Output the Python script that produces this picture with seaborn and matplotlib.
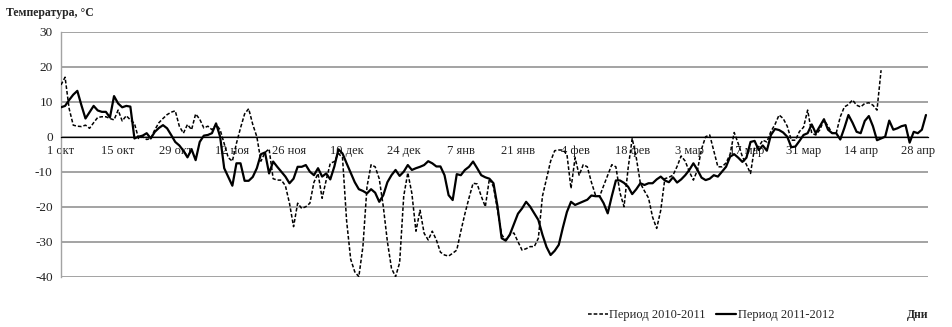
import numpy as np
import pandas as pd
import matplotlib
matplotlib.use('Agg')
import matplotlib.pyplot as plt
import seaborn as sns

# ---- data ----
tick_labels = ['1 окт', '15 окт', '29 окт', '12 ноя', '26 ноя', '10 дек', '24 дек',
               '7 янв', '21 янв', '4 фев', '18 фев', '3 мар', '17 мар', '31 мар',
               '14 апр', '28 апр']
tick_days = list(range(0, 211, 14))

temp_2010_2011 = [
    14.8, 17, 8, 3.3, 3, 2.9, 3.3, 2.4, 4, 5.5, 5.7, 5.7, 5.2, 4.8,
    7.6, 4.5, 6, 4.8, 3.8, -0.5, 0, -0.8, -0.5, 2, 4, 5.2, 6.3, 7,
    7.4, 3, 1, 3.5, 2, 6.5, 5, 2.5, 3, 2, 3.5, 2, -2, -6,
    -7, -1.9, 2.5, 6.5, 8, 3.5, 0, -7, -4.5, -3.5, -12, -12.4, -12.4, -14,
    -19, -25.7, -19, -20.5, -20, -19, -13, -10.5, -17.6, -12.4, -7.6, -7.1, -4.8, -6,
    -24, -35, -38.6, -40, -31.4, -14.3, -8, -8.6, -12, -20, -30, -37.6, -40, -36,
    -17, -10.3, -16.2, -27, -21, -27.6, -29.5, -27, -29.5, -33, -33.8, -34.1, -33.3, -32.4,
    -27, -22, -17.5, -13.3, -13.5, -17, -20, -12, -14.3, -21, -28, -29.5, -28, -27.5,
    -30, -32.4, -32, -31.4, -31.4, -29, -17, -12, -7, -4, -3.8, -3.8, -5, -14.8,
    -6, -11, -8, -8.6, -13, -16.7, -17.1, -14, -11, -8, -8.6, -16, -20, -9,
    -0.5, -6, -13.3, -15.5, -17.5, -23, -26.2, -21, -12, -11.6, -11, -8.5, -5.5, -7,
    -10, -12.4, -9.5, -3.5, 0, 0.5, -4, -8.6, -8.6, -7.5, -5, 1.2, -2, -5.7,
    -8, -10.5, -3, -2.9, -1, -1.5, 1.5, 3.5, 6.2, 5.2, 3, -1, -1, 1.5,
    2.7, 7.6, 1, 0.5, 2, 4.8, 3, 1, 1, 5.7, 8.5, 9.2, 10.5, 9,
    8.5, 9.5, 9.7, 9, 7.6, 19,
]

temp_2011_2012 = [
    8.4, 8.8, 10.5, 12, 13.1, 9, 5.2, 7, 8.8, 7.5, 7.1, 7.1, 5.5, 11.6,
    9.5, 8.4, 8.8, 8.6, -0.5, 0, 0.3, 1, -0.5, 1.4, 2.5, 3.3, 2.4, 0.5,
    -1.5, -2.5, -4, -5.9, -3.6, -6.7, -1.5, 0.3, 0.5, 1, 3.8, 0, -9, -11.5,
    -14, -7.6, -7.6, -12.6, -12.6, -11.5, -9, -5, -4.5, -10.5, -7.1, -8.6, -10, -11.4,
    -13.3, -12, -8.6, -8.6, -8.1, -10, -11, -9, -11.4, -10.5, -12.2, -8.5, -3.6, -4.8,
    -7.6, -10.3, -13, -15, -15.5, -16.2, -15, -16, -18.6, -16.7, -13, -11, -9.5, -11.2,
    -10, -8.1, -9.5, -9, -8.6, -8.1, -7, -7.6, -8.5, -8.5, -11, -16.7, -18.1, -10.7,
    -11, -9.5, -8.6, -7.1, -9, -11, -11.6, -12, -13.3, -20, -29, -29.7, -28, -25,
    -22, -20.5, -18.6, -20, -21.9, -23.8, -28, -31.5, -33.8, -32.6, -30.9, -26, -21.5, -18.6,
    -19.5, -19, -18.5, -18, -16.8, -17, -17, -19, -21.9, -17, -12.5, -12.5, -13.2, -14.3,
    -16.4, -15, -13.3, -13.8, -13.3, -13.3, -12.2, -11.4, -12.5, -13, -11.6, -13.1, -12.2, -11,
    -9.5, -7.6, -9.5, -11.7, -12.4, -12, -11, -11.4, -10, -8.6, -5.7, -5, -6, -7.2,
    -6, -1.5, -1.2, -3.8, -2.5, -4, 0.5, 2.2, 1.9, 1.2, 0, -3, -2.8, -1.2,
    0.5, 1, 3.5, 1, 3, 5, 2, 1, 1, -0.8, 2.5, 6.2, 4, 1.4,
    1, 4.5, 5.9, 3, -1, -0.5, 0, 4.6, 2, 2.4, 3, 3.3, -1.7, 1.4,
    1, 2, 6.2,
]

series_names = ['Период 2010-2011', 'Период 2011-2012']

# ---- style ----
sns.set_style('white')
plt.rcParams['font.family'] = ['Liberation Serif', 'DejaVu Serif']
plt.rcParams['axes.unicode_minus'] = False

W, H = 953, 327
fig = plt.figure(figsize=(W / 100, H / 100), dpi=100)
left, right, top, bottom = 61, 928, 31.7, 276.7
ax = fig.add_axes([left / W, 1 - bottom / H, (right - left) / W, (bottom - top) / H])

grid_col = '#a3a3a3'

df1 = pd.DataFrame({'day': np.arange(len(temp_2010_2011)), 't': temp_2010_2011})
df2 = pd.DataFrame({'day': np.arange(len(temp_2011_2012)), 't': temp_2011_2012})

sns.lineplot(data=df1, x='day', y='t', ax=ax, color='black', lw=1.1,
             linestyle=(0, (2.4, 1.3)), label=series_names[0], zorder=3)
sns.lineplot(data=df2, x='day', y='t', ax=ax, color='black', lw=1.6,
             label=series_names[1], zorder=3)

ax.set_xlim(0, 212.5)
ax.set_ylim(-40, 30)
ax.set_yticks(range(-40, 31, 10))
ax.yaxis.grid(True, color=grid_col, lw=1.4)
ax.xaxis.grid(False)
ax.set_axisbelow(True)

for s in ['top', 'right']:
    ax.spines[s].set_visible(False)
ax.spines['bottom'].set_position(('data', 0))
ax.spines['bottom'].set_color('black')
ax.spines['bottom'].set_linewidth(0.9)
ax.spines['bottom'].set_zorder(2.5)
ax.spines['left'].set_color(grid_col)
ax.spines['left'].set_linewidth(1.0)

ax.set_xticks(tick_days)
ax.set_xticklabels(tick_labels)
ax.tick_params(axis='x', direction='in', length=3, width=0.8, color='black',
               pad=6, labelsize=9, labelcolor='#222222')
ax.tick_params(axis='y', direction='out', length=4, width=1.0, color=grid_col,
               pad=2, labelsize=9.5, labelcolor='#222222')
ax.set_xlabel('')
ax.set_ylabel('')

ax.legend(loc='center', bbox_to_anchor=(711 / W, 1 - 315 / H),
          bbox_transform=fig.transFigure, ncol=2, frameon=False,
          handlelength=1.6, handletextpad=0.15, columnspacing=0.8, fontsize=9)

fig.text(6.5 / W, 1 - 13 / H, 'Температура, °С', fontsize=8.5, fontweight='bold',
         ha='left', va='center')
fig.text(918 / W, 1 - 315 / H, 'Дни', fontsize=8.5, fontweight='bold',
         ha='center', va='center')

fig.savefig('out.png', dpi=100)
